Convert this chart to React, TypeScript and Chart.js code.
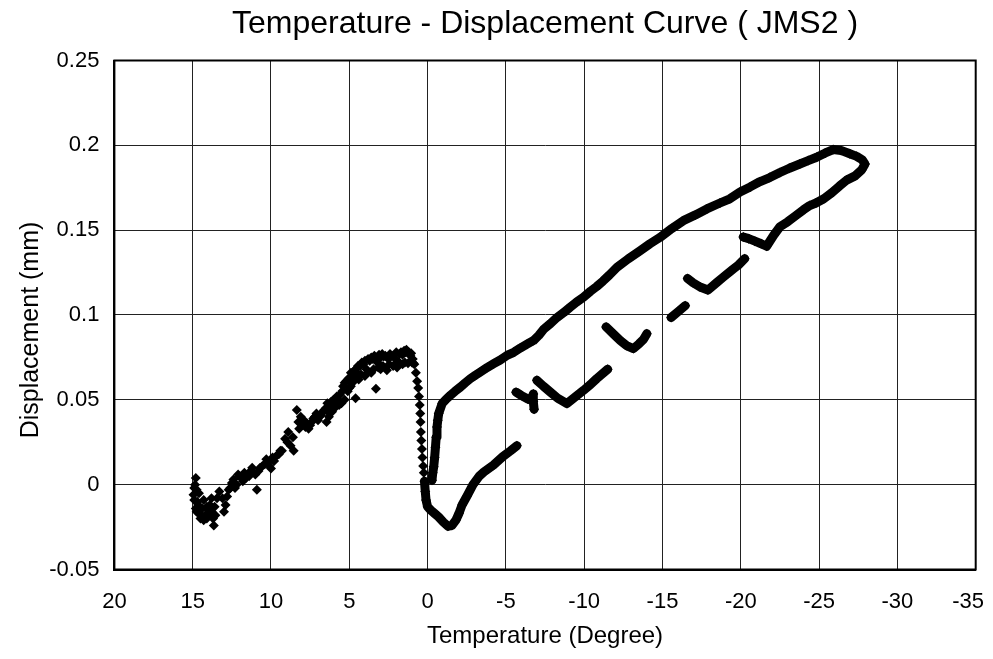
import React, { useEffect, useRef } from "react";
import { Chart, registerables } from "chart.js";

Chart.register(...registerables);

const TITLE = "Temperature - Displacement Curve ( JMS2 )";
const X_TITLE = "Temperature (Degree)";
const Y_TITLE = "Displacement (mm)";

const xTicks = [20, 15, 10, 5, 0, -5, -10, -15, -20, -25, -30, -35];
const xTickLabels = ["20", "15", "10", "5", "0", "-5", "-10", "-15", "-20", "-25", "-30", "-35"];
const yTicks = [-0.05, 0, 0.05, 0.1, 0.15, 0.2, 0.25];
const yTickLabels = ["-0.05", "0", "0.05", "0.1", "0.15", "0.2", "0.25"];

// scattered warm-up points (15 -> 1 degree)
const warmTemp = [14.8, 14.9, 14.95, 14.7, 14.8, 14.6, 14.4, 14.5, 14.2, 14.0, 13.9, 13.7, 13.65, 13.8, 14.6, 14.3, 13.3, 13.1, 13.0, 12.9, 12.7, 12.5, 12.3, 12.0, 11.8, 11.6, 11.3, 11.0, 10.9, 10.7, 10.4, 10.2, 10.0, 9.8, 9.5, 9.3, 8.9, 8.75, 8.55, 8.35, 8.25, 8.2, 8.0, 7.8, 7.6, 7.4, 7.2, 7.0, 6.8, 6.6, 6.45, 6.4, 6.3, 6.2, 6.1, 6.0, 5.9, 5.8, 5.6, 5.5, 5.4, 5.3, 5.2, 5.1, 5.0, 4.9, 4.7, 4.6, 4.5, 4.4, 4.3, 4.1, 4.0, 3.9, 3.7, 3.6, 3.5, 3.3, 3.2, 3.0, 3.0, 2.8, 2.6, 2.5, 2.3, 2.2, 2.1, 1.95, 1.8, 1.6, 1.6, 1.4, 1.35, 1.25, 1.1, 0.95,
  14.85, 14.75, 14.65, 14.45, 14.3, 14.1, 13.95, 13.8, 13.55, 13.45, 13.6, 14.1, 14.9, 14.75,
  12.8, 12.6, 12.4, 12.2, 12.1, 11.9, 11.7, 11.4, 11.2, 10.8, 10.55, 10.3, 10.1, 9.9, 9.65, 9.4, 9.1, 8.95, 8.6,
  8.1, 7.9, 7.7, 7.5, 7.3, 7.1, 6.9, 6.7, 6.5, 6.35, 6.15, 5.95, 5.75, 5.65, 5.45,
  5.3, 5.1, 4.9, 4.8, 4.6, 4.45, 4.2, 4.0, 3.8, 3.6, 3.4, 3.1, 2.9, 2.7, 2.4, 2.0, 1.7, 1.5, 1.2, 1.05,
  5.0, 4.8, 4.55, 4.25, 3.85, 3.45, 3.15, 2.85, 2.45, 2.0, 1.8, 1.45, 1.0, 0.9];
const warmDisp = [0.004, -0.002, -0.006, -0.01, -0.014, -0.017, -0.014, -0.02, -0.018, -0.015, -0.012, -0.02, -0.024, -0.008, -0.005, -0.009, -0.004, -0.008, -0.016, -0.012, -0.003, 0.001, -0.002, 0.005, 0.002, 0.004, 0.008, 0.006, -0.003, 0.01, 0.012, 0.013, 0.0095, 0.014, 0.018, 0.02, 0.031, 0.023, 0.02, 0.044, 0.037, 0.033, 0.036, 0.034, 0.033, 0.037, 0.04, 0.038, 0.041, 0.044, 0.037, 0.048, 0.04, 0.046, 0.043, 0.05, 0.047, 0.052, 0.053, 0.048, 0.058, 0.05, 0.061, 0.055, 0.063, 0.058, 0.067, 0.051, 0.066, 0.062, 0.07, 0.071, 0.064, 0.068, 0.073, 0.066, 0.074, 0.0565, 0.072, 0.075, 0.068, 0.0755, 0.0675, 0.074, 0.076, 0.07, 0.0745, 0.069, 0.077, 0.0765, 0.071, 0.078, 0.0795, 0.0715, 0.076, 0.074,
  0.0, -0.003, -0.012, -0.018, -0.021, -0.02, -0.018, -0.016, -0.018, -0.008, -0.013, -0.013, -0.009, -0.016,
  -0.007, -0.002, 0.003, 0.0, 0.006, 0.004, 0.007, 0.005, 0.01, 0.008, 0.011, 0.015, 0.011, 0.016, 0.017, 0.02, 0.027, 0.025, 0.028,
  0.04, 0.038, 0.036, 0.035, 0.039, 0.042, 0.04, 0.043, 0.045, 0.043, 0.049, 0.045, 0.05, 0.047, 0.055,
  0.06, 0.062, 0.066, 0.064, 0.068, 0.07, 0.072, 0.073, 0.074, 0.075, 0.076, 0.0765, 0.077, 0.076, 0.077, 0.078, 0.078, 0.079, 0.078, 0.0775,
  0.057, 0.06, 0.063, 0.065, 0.066, 0.068, 0.069, 0.07, 0.071, 0.0715, 0.072, 0.072, 0.072, 0.0715];

// sharp drop near 0 degree
const dropTemp = [0.85, 0.75, 0.67, 0.6, 0.55, 0.5, 0.47, 0.45, 0.43, 0.4, 0.36, 0.33, 0.28, 0.24];
const dropDisp = [0.071, 0.066, 0.061, 0.057, 0.052, 0.047, 0.042, 0.037, 0.031, 0.026, 0.021, 0.016, 0.011, 0.007];

// bottom of the U and first cooling segment
const dipTemp = [0.2, 0.15, 0.1, 0.0, -0.2, -0.45, -0.7, -1.0, -1.3, -1.55, -1.8, -2.0, -2.2, -2.5, -2.9, -3.3, -3.6, -4.2, -4.8, -5.3, -5.7];
const dipDisp = [0.002, -0.004, -0.009, -0.013, -0.015, -0.017, -0.019, -0.022, -0.0245, -0.024, -0.021, -0.017, -0.012, -0.007, 0.0, 0.005, 0.0075, 0.0115, 0.0165, 0.02, 0.023];

// rising arm, upper branch, loop end and return
const upperTemp = [-0.28, -0.33, -0.39, -0.45, -0.5, -0.55, -0.6, -0.65, -0.71, -0.93, -1.2, -1.45, -1.75, -2.09, -2.4, -2.73, -3.05, -3.37, -3.8, -4.22, -4.64, -5.07, -5.5, -5.92, -6.35, -6.77, -7.1, -7.4, -7.85, -8.26, -8.7, -9.1, -9.5, -9.96, -10.4, -10.8, -11.2, -11.6, -12.09, -12.8, -13.57, -14.2, -14.85, -15.6, -16.33, -17.1, -17.83, -18.67, -19.3, -19.95, -20.6, -21.2, -21.85, -22.5, -23.1, -23.77, -24.3, -24.84, -25.4, -25.9, -26.4, -26.96, -27.4, -27.75, -27.93, -27.72, -27.3, -26.76, -26.3, -25.8, -25.3, -24.8, -24.4, -24.0, -23.5, -23.0, -22.5, -22.1, -21.65, -21.3, -20.9, -20.5, -20.16];
const upperDisp = [0.0026, 0.007, 0.0105, 0.016, 0.022, 0.028, 0.034, 0.038, 0.042, 0.0478, 0.0505, 0.0526, 0.055, 0.0575, 0.06, 0.0625, 0.0645, 0.0664, 0.069, 0.0713, 0.0735, 0.0762, 0.078, 0.0805, 0.0828, 0.085, 0.088, 0.0915, 0.095, 0.0985, 0.1015, 0.1046, 0.1075, 0.1105, 0.114, 0.1168, 0.12, 0.1235, 0.1281, 0.133, 0.1379, 0.142, 0.1458, 0.151, 0.1556, 0.159, 0.1625, 0.166, 0.1685, 0.1725, 0.1755, 0.1785, 0.181, 0.184, 0.1865, 0.189, 0.191, 0.193, 0.1955, 0.1975, 0.197, 0.195, 0.1935, 0.1915, 0.189, 0.1855, 0.182, 0.1795, 0.176, 0.172, 0.1685, 0.166, 0.1645, 0.162, 0.1585, 0.155, 0.152, 0.147, 0.1405, 0.142, 0.1435, 0.145, 0.146];

// broken return (lower) branch pieces
const hookTemp = [-5.65, -6.0, -6.4, -6.72, -6.75, -6.75, -6.8];
const hookDisp = [0.0545, 0.0525, 0.0505, 0.0495, 0.0535, 0.049, 0.0445];
const vTemp = [-6.98, -7.4, -7.83, -8.3, -8.9, -9.4, -9.96, -10.4, -10.8, -11.5];
const vDisp = [0.0615, 0.058, 0.0546, 0.051, 0.0478, 0.0515, 0.0556, 0.059, 0.0625, 0.068];
const c1Temp = [-11.4, -11.9, -12.3, -12.7, -13.14, -13.5, -13.78, -14.0];
const c1Disp = [0.093, 0.0885, 0.085, 0.082, 0.0802, 0.083, 0.0855, 0.089];
const c2Temp = [-15.55, -16.0, -16.45];
const c2Disp = [0.0985, 0.102, 0.1055];
const c3Temp = [-16.6, -16.95, -17.4, -17.9, -18.45, -18.9, -19.5, -19.85, -20.25];
const c3Disp = [0.1215, 0.119, 0.1165, 0.1147, 0.119, 0.1225, 0.127, 0.1295, 0.1332];

const FONT = '"Liberation Sans", Arial, Helvetica, sans-serif';
const INK = "#000000";

function pts(xs: number[], ys: number[]) {
  return xs.map((x, i) => ({ x, y: ys[i] }));
}

function pointSet(xs: number[], ys: number[]) {
  return {
    data: pts(xs, ys),
    showLine: false,
    pointStyle: "rectRot",
    pointRadius: 5,
    pointBackgroundColor: INK,
    pointBorderColor: INK,
    pointBorderWidth: 0,
  };
}

function lineSet(xs: number[], ys: number[]) {
  return {
    data: pts(xs, ys),
    showLine: true,
    borderColor: INK,
    borderWidth: 9,
    borderCapStyle: "round",
    borderJoinStyle: "round",
    tension: 0,
    pointStyle: "rectRot",
    pointRadius: 5,
    pointBackgroundColor: INK,
    pointBorderColor: INK,
    pointBorderWidth: 0,
  };
}

const textPlugin = {
  id: "chartTexts",
  afterDraw(chart: any) {
    const { ctx, chartArea, width } = chart;
    const xs = chart.scales.x;
    ctx.save();
    ctx.fillStyle = INK;
    // chart title, centred over the plot area
    ctx.font = `32px ${FONT}`;
    ctx.textAlign = "center";
    ctx.textBaseline = "middle";
    ctx.fillText(TITLE, (chartArea.left + chartArea.right) / 2, 16);
    // x tick labels, kept inside the canvas like the original
    ctx.font = `22px ${FONT}`;
    xTicks.forEach((v, i) => {
      const label = xTickLabels[i];
      const w = ctx.measureText(label).width;
      let px = xs.getPixelForValue(v);
      px = Math.min(px, width - 1 - w / 2);
      ctx.fillText(label, px, chartArea.bottom + 32);
    });
    // y axis title
    ctx.translate(23, (chartArea.top + chartArea.bottom) / 2 + 15);
    ctx.rotate(-Math.PI / 2);
    ctx.font = `25px ${FONT}`;
    ctx.fillText(Y_TITLE, 0, 0);
    ctx.restore();
  },
};

const framePlugin = {
  id: "frame",
  afterDatasetsDraw(chart: any) {
    const { ctx, chartArea } = chart;
    ctx.save();
    ctx.strokeStyle = INK;
    ctx.lineWidth = 2;
    ctx.strokeRect(chartArea.left, chartArea.top, chartArea.right - chartArea.left, chartArea.bottom - chartArea.top);
    ctx.restore();
  },
};

export default function App() {
  const ref = useRef<HTMLCanvasElement | null>(null);
  useEffect(() => {
    if (!ref.current) return;
    const chart = new Chart(ref.current, {
      type: "scatter",
      data: {
        datasets: [
          pointSet(warmTemp, warmDisp),
          pointSet(dropTemp, dropDisp),
          lineSet(dipTemp, dipDisp),
          lineSet(upperTemp, upperDisp),
          lineSet(hookTemp, hookDisp),
          lineSet(vTemp, vDisp),
          lineSet(c1Temp, c1Disp),
          lineSet(c2Temp, c2Disp),
          lineSet(c3Temp, c3Disp),
        ] as any,
      },
      options: {
        animation: false,
        responsive: true,
        maintainAspectRatio: false,
        layout: { padding: { top: 52.5, right: 9.3, left: 0, bottom: 0 } },
        plugins: { legend: { display: false }, tooltip: { enabled: false }, title: { display: false } },
        scales: {
          x: {
            type: "linear",
            reverse: true,
            min: -35,
            max: 20,
            afterBuildTicks: (s: any) => {
              s.ticks = xTicks.map((v) => ({ value: v }));
            },
            afterFit: (s: any) => {
              s.height = 81.5;
              s.paddingLeft = 0;
              s.paddingRight = 0;
            },
            grid: { color: "#222", lineWidth: 1, drawTicks: false },
            border: { display: true, color: INK, width: 2 },
            ticks: { display: false, autoSkip: false },
            title: {
              display: true,
              text: X_TITLE,
              color: INK,
              font: { family: FONT, size: 24 },
              padding: { top: 0, bottom: 0 },
            },
          },
          y: {
            type: "linear",
            min: -0.05,
            max: 0.25,
            afterBuildTicks: (s: any) => {
              s.ticks = yTicks.map((v) => ({ value: v }));
            },
            afterFit: (s: any) => {
              s.width = 106.4;
              s.paddingTop = 0;
              s.paddingBottom = 0;
            },
            grid: { color: "#222", lineWidth: 1, drawTicks: false },
            border: { display: true, color: INK, width: 2 },
            ticks: {
              color: INK,
              font: { family: FONT, size: 22 },
              padding: 15,
              autoSkip: false,
              callback: (v: any) => {
                const i = yTicks.findIndex((t) => Math.abs(t - Number(v)) < 1e-9);
                return i >= 0 ? yTickLabels[i] : "";
              },
            },
            title: { display: false },
          },
        },
      },
      plugins: [textPlugin, framePlugin],
    });
    return () => chart.destroy();
  }, []);
  return (
    <div style={{ width: 977, height: 643, position: "relative" }}>
      <canvas ref={ref} />
    </div>
  );
}
